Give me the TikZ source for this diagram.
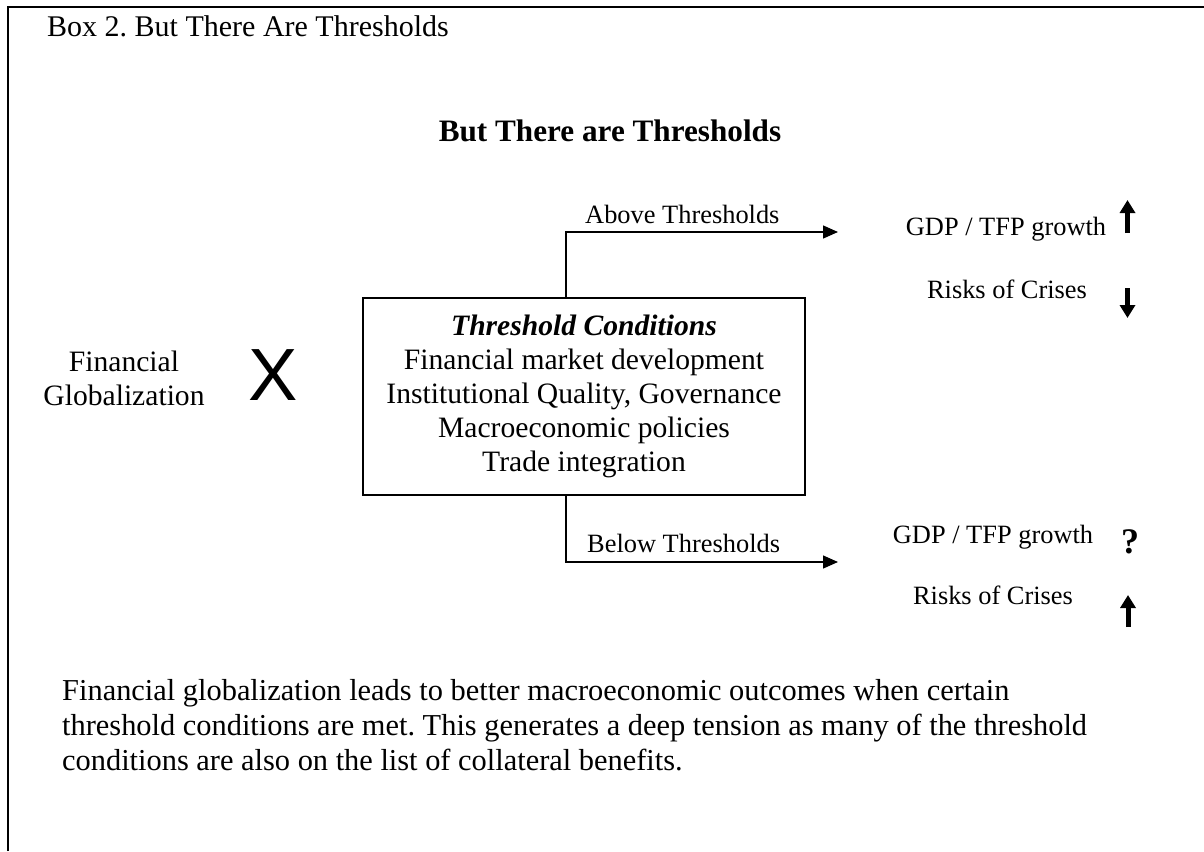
\documentclass[tikz,border=0pt]{standalone}
\usepackage{fontspec}
\setmainfont{Liberation Serif}
\newfontfamily\xfont{Liberation Sans}
\usetikzlibrary{arrows.meta}
\frenchspacing

\tikzset{
  txt/.style={inner sep=0pt, anchor=base},
  lbl/.style={txt, font=\fontsize{26.4}{31}\selectfont},
  conn/.style={line width=1.3pt, -{Triangle[length=15pt,width=13pt]}},
  fat/.style={line width=5pt, -{Triangle[length=13pt,width=15pt]}},
}

\begin{document}
\begin{tikzpicture}[x=1pt, y=-1pt]
\useasboundingbox (0,0) rectangle (1204,851);
\draw[line width=2.5pt] (8,851) -- (8,7) -- (1204,7);
\node[txt, anchor=base west, font=\fontsize{30}{35}\selectfont] (boxtitle) at (47,37) {Box 2. But There Are Thresholds};
\node[txt, font=\fontsize{31.2}{36}\selectfont\bfseries] (heading) at (610,141) {But There are Thresholds};
\node[align=center, font=\fontsize{29.6}{34}\selectfont] (finglob) at (124,378) {Financial\\Globalization};
\node[txt, font=\xfont\fontsize{74}{74}\selectfont] (times) at (273,400) {X};
\node[draw, line width=1.3pt, minimum width=442pt, minimum height=197pt, align=center, font=\fontsize{29.6}{34}\selectfont] (cond) at (584,396.5)
  {\textbf{\textit{Threshold Conditions}}\\Financial market development\\Institutional Quality, Governance\\Macroeconomic policies\\Trade integration};
\coordinate (upturn) at (566,232);
\coordinate (upend) at (838,232);
\coordinate (downturn) at (566,562);
\coordinate (downend) at (838,562);
\draw[conn] (cond.north -| upturn) -- (upturn) -- (upend);
\draw[conn] (cond.south -| downturn) -- (downturn) -- (downend);
\node[lbl, anchor=base west] (above) at (585,223) {Above Thresholds};
\node[lbl, anchor=base west] (below) at (587,552) {Below Thresholds};
\node[lbl] (gdpup) at (1006,235) {GDP / TFP growth};
\node[lbl] (riskup) at (1007,298) {Risks of Crises};
\node[lbl] (gdpdown) at (993,543) {GDP / TFP growth};
\node[lbl] (riskdown) at (993,604) {Risks of Crises};
\draw[fat] (1127.5,233) -- (1127.5,200);
\draw[fat] (1127.5,288) -- (1127.5,318);
\draw[fat] (1128,627) -- (1128,595);
\node[txt, font=\fontsize{36}{40}\selectfont\bfseries] (qmark) at (1130,553) {?};
\foreach \i/\ybase/\line in {1/700/{Financial globalization leads to better macroeconomic outcomes when certain},
  2/735/{threshold conditions are met. This generates a deep tension as many of the threshold},
  3/770/{conditions are also on the list of collateral benefits.}}
{
  \node[txt, anchor=base west, font=\fontsize{30.4}{35}\selectfont] (para\i) at (62,\ybase) {\line};
}
\end{tikzpicture}
\end{document}
